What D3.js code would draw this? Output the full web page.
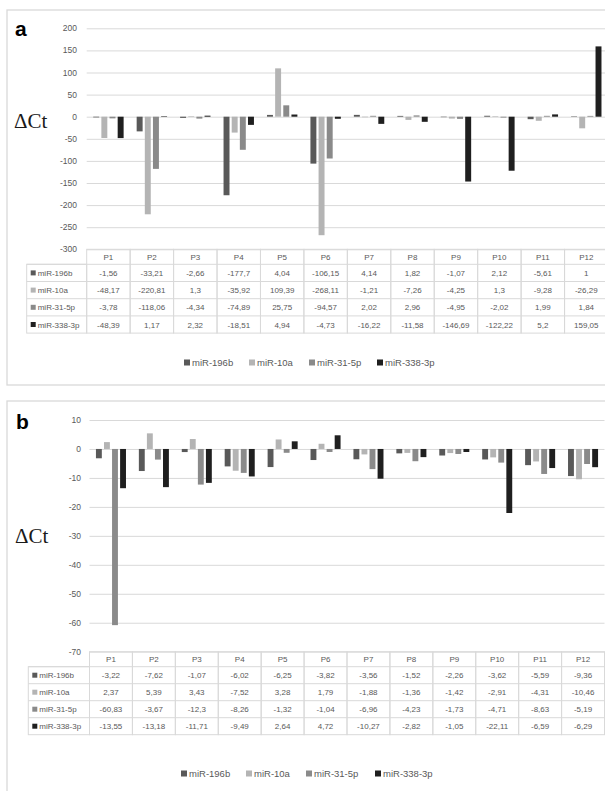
<!DOCTYPE html>
<html>
<head>
<meta charset="utf-8">
<script src="https://cdn.jsdelivr.net/npm/d3@7"></script>
<style>
  body { margin: 0; background: #fff; }
  svg { display: block; font-family: "Liberation Sans", Arial, sans-serif; }
</style>
</head>
<body>
<div id="chart"></div>
<script>
// shared labels
const categories = ["P1","P2","P3","P4","P5","P6","P7","P8","P9","P10","P11","P12"]
const seriesNames = ["miR-196b","miR-10a","miR-31-5p","miR-338-3p"]
const seriesColors = ["#595959","#b4b4b4","#8a8a8a","#1f1f1f"]

// panel a values
const a196b  = [-1.56,-33.21,-2.66,-177.7,4.04,-106.15,4.14,1.82,-1.07,2.12,-5.61,1]
const a10a   = [-48.17,-220.81,1.3,-35.92,109.39,-268.11,-1.21,-7.26,-4.25,1.3,-9.28,-26.29]
const a315p  = [-3.78,-118.06,-4.34,-74.89,25.75,-94.57,2.02,2.96,-4.95,-2.02,1.99,1.84]
const a3383p = [-48.39,1.17,2.32,-18.51,4.94,-4.73,-16.22,-11.58,-146.69,-122.22,5.2,159.05]
const aTicks = [-300,-250,-200,-150,-100,-50,0,50,100,150,200]

// panel b values
const b196b  = [-3.22,-7.62,-1.07,-6.02,-6.25,-3.82,-3.56,-1.52,-2.26,-3.62,-5.59,-9.36]
const b10a   = [2.37,5.39,3.43,-7.52,3.28,1.79,-1.88,-1.36,-1.42,-2.91,-4.31,-10.46]
const b315p  = [-60.83,-3.67,-12.3,-8.26,-1.32,-1.04,-6.96,-4.23,-1.73,-4.71,-8.63,-5.19]
const b3383p = [-13.55,-13.18,-11.71,-9.49,2.64,4.72,-10.27,-2.82,-1.05,-22.11,-6.59,-6.29]
const bTicks = [-70,-60,-50,-40,-30,-20,-10,0,10]

const W = 605, H = 791
const grid = "#d9d9d9", txt = "#595959"

const svg = d3.select("#chart").append("svg")
  .attr("width", W).attr("height", H)

svg.append("rect").attr("width", W).attr("height", H).attr("fill", "#fff")

// comma decimals like the source table
let fmt = v => String(v).replace(".", ",")

function drawPanel(p) {
  const g = svg.append("g")

  // frame
  g.append("rect")
    .attr("x", p.box[0]).attr("y", p.box[1])
    .attr("width", p.box[2]).attr("height", p.box[3])
    .attr("fill", "none").attr("stroke", grid).attr("stroke-width", 1.3)

  g.append("text").attr("x", p.letter[0]).attr("y", p.letter[1])
    .attr("font-size", 21).attr("font-weight", "bold").attr("fill", "#000")
    .text(p.name)

  g.append("text").attr("x", p.dct[0]).attr("y", p.dct[1])
    .attr("font-family", "'Liberation Serif', 'Times New Roman', serif")
    .attr("font-size", 21).attr("fill", "#1a1a1a")
    .text("ΔCt")

  const y = d3.scaleLinear().domain(p.domain).range([p.yBottom, p.yTop])
  const x0 = d3.scaleBand().domain(categories).range([p.left, p.right])
  const x1 = d3.scaleBand().domain(seriesNames).range([0, x0.bandwidth()])
    .paddingInner(0.27).paddingOuter(0.8)

  // gridlines
  g.append("g").selectAll("line").data(p.ticks).join("line")
    .attr("x1", p.left).attr("x2", p.right)
    .attr("y1", d => y(d) + 0.5).attr("y2", d => y(d) + 0.5)
    .attr("stroke", grid).attr("stroke-width", 1)

  // tick labels
  g.append("g").selectAll("text").data(p.ticks).join("text")
    .attr("x", p.tickX).attr("y", d => y(d) + 3)
    .attr("text-anchor", "end").attr("font-size", 8.5).attr("fill", txt)
    .text(d => String(d))

  // bars
  const rows = p.values.map((vals, si) => ({ name: seriesNames[si], color: seriesColors[si], vals }))
  rows.forEach(r => {
    g.append("g").selectAll("rect").data(r.vals).join("rect")
      .attr("x", (d, i) => x0(categories[i]) + x1(r.name))
      .attr("width", x1.bandwidth())
      .attr("y", d => Math.min(y(d), y(0)))
      .attr("height", d => Math.abs(y(d) - y(0)))
      .attr("fill", r.color)
  })

  // data table
  const t = g.append("g").attr("font-size", 8).attr("fill", txt)
  const top = p.yBottom
  const hdrH = p.headerH, rowH = p.rowH
  const tblBottom = top + hdrH + rowH * 4
  const bw = x0.bandwidth()

  // header cells
  categories.forEach(c => {
    t.append("rect").attr("x", x0(c)).attr("y", top).attr("width", bw).attr("height", tblBottom - top)
      .attr("fill", "none").attr("stroke", grid)
    t.append("text").attr("x", x0(c) + bw / 2).attr("y", top + hdrH / 2 + 3)
      .attr("text-anchor", "middle").text(c)
  })
  // row lines and label column
  t.append("rect").attr("x", p.labelLeft).attr("y", top + hdrH)
    .attr("width", p.left - p.labelLeft).attr("height", rowH * 4)
    .attr("fill", "none").attr("stroke", grid)
  rows.forEach((r, ri) => {
    const ry = top + hdrH + ri * rowH
    t.append("line").attr("x1", p.labelLeft).attr("x2", p.right)
      .attr("y1", ry).attr("y2", ry).attr("stroke", grid)
    t.append("rect").attr("x", p.labelLeft + 4).attr("y", ry + rowH / 2 - 2.5)
      .attr("width", 5).attr("height", 5).attr("fill", r.color)
    t.append("text").attr("x", p.labelLeft + 11).attr("y", ry + rowH / 2 + 3)
      .text(r.name)
    r.vals.forEach((v, i) => {
      t.append("text").attr("x", x0(categories[i]) + bw / 2).attr("y", ry + rowH / 2 + 3)
        .attr("text-anchor", "middle").text(fmt(v))
    })
  })

  // legend
  const lg = g.append("g").attr("font-size", 9.5).attr("fill", txt)
  rows.forEach((r, i) => {
    const lx = p.legendX[i]
    lg.append("rect").attr("x", lx).attr("y", p.legendY - 3.5)
      .attr("width", 6).attr("height", 6).attr("fill", r.color)
    lg.append("text").attr("x", lx + 8).attr("y", p.legendY + 3).text(r.name)
  })
}

drawPanel({
  name: "a",
  box: [7, 10, 640, 375],
  letter: [15, 36],
  dct: [14, 128],
  domain: [-300, 200], ticks: aTicks,
  yTop: 28.3, yBottom: 249.3,
  left: 86.7, right: 608,
  tickX: 77,
  headerH: 15, rowH: 17.2, labelLeft: 26.7,
  values: [a196b, a10a, a315p, a3383p],
  legendX: [184, 249, 309, 377], legendY: 363
})

drawPanel({
  name: "b",
  box: [7, 401, 640, 420],
  letter: [16, 429],
  dct: [15, 543],
  domain: [-70, 10], ticks: bTicks,
  yTop: 420, yBottom: 651.7,
  left: 89.5, right: 604.5,
  tickX: 81,
  headerH: 15, rowH: 17, labelLeft: 28.3,
  values: [b196b, b10a, b315p, b3383p],
  legendX: [181, 246, 306, 375], legendY: 774
})
</script>
</body>
</html>
